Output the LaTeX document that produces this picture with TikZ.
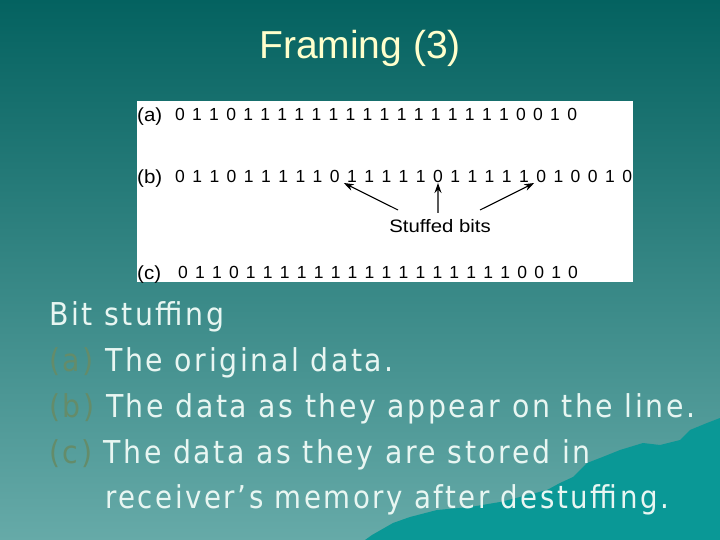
\documentclass[tikz,border=0pt]{standalone}
\usepackage{fontspec}
\setmainfont{Liberation Sans}
\newfontfamily\bodyfont[FakeStretch=0.9,LetterSpace=8.2]{DejaVu Sans}
\usetikzlibrary{arrows.meta,calc}
\definecolor{bgtop}{RGB}{4,98,96}
\definecolor{bgbot}{RGB}{102,170,168}
\definecolor{mount}{RGB}{10,152,150}
\definecolor{titlec}{RGB}{255,255,204}
\definecolor{bodyc}{RGB}{232,246,242}
\definecolor{labc}{RGB}{100,140,106}
\tikzset{
  bit/.style={inner sep=0pt,anchor=base,font=\fontsize{17.5}{17.5}\selectfont},
  rowlab/.style={inner sep=0pt,anchor=base west,xscale=1.08,font=\fontsize{19}{19}\selectfont},
  bodytext/.style={inner sep=0pt,anchor=base west,text=bodyc,font=\bodyfont\fontsize{31.5}{31.5}\selectfont},
  stuffarrow/.style={draw=black,line width=1.1pt,-{Stealth[length=10pt,width=7pt]}}
}
\begin{document}
\begin{tikzpicture}[x=1pt,y=-1pt]
\useasboundingbox (0,0) rectangle (720,540);
\shade[top color=bgtop,bottom color=bgbot] (0,0) rectangle (720,540);
% mountain
\fill[mount] (365,540) -- (372,535) -- (393,523) -- (410,517) -- (437,510) -- (470,507) -- (500,502) -- (520,497) -- (547,490) -- (560,483) -- (573,477) -- (587,463) -- (600,458) -- (620,450) -- (643,443) -- (660,445) -- (680,440) -- (690,430) -- (707,423) -- (720,418) -- (720,540) -- cycle;
% title
\node[inner sep=0pt,text=titlec,font=\fontsize{39}{39}\selectfont] (title) at (360,48) {Framing (3)};
% white figure box
\fill[white] (137,101) rectangle (633,282);
\node[rowlab] (la) at (137,122) {(a)};
\node[rowlab] (lb) at (137,184) {(b)};
\node[rowlab] (lc) at (137,279) {(c)};
\foreach \v [count=\i] in {0,1,1,0,1,1,1,1,1,1,1,1,1,1,1,1,1,1,1,1,0,0,1,0}
  \node[bit] (a\i) at ({180+(\i-1)*17.05},121) {\v};
\foreach \v [count=\i] in {0,1,1,0,1,1,1,1,1,0,1,1,1,1,1,0,1,1,1,1,1,0,1,0,0,1,0}
  \node[bit] (b\i) at ({180+(\i-1)*17.2},183) {\v};
\foreach \v [count=\i] in {0,1,1,0,1,1,1,1,1,1,1,1,1,1,1,1,1,1,1,1,0,0,1,0}
  \node[bit] (c\i) at ({183+(\i-1)*16.96},278) {\v};
\node[inner sep=0pt,anchor=base,xscale=1.13,font=\fontsize{18}{18}\selectfont] (stuffed) at (440,233) {Stuffed bits};
\coordinate (t1) at (398,210);
\coordinate (t2) at (438,213);
\coordinate (t3) at (480,210);
\draw[stuffarrow] (t1) -- ([xshift=9pt]b10.base);
\draw[stuffarrow] (t2) -- (b16.base);
\draw[stuffarrow] (t3) -- ([xshift=-7pt]b22.base);
% body text
\node[bodytext] (l0) at (49,325) {Bit stuffing};
\node[bodytext] (l1) at (49,371) {\textcolor{labc}{(a)} The original data.};
\node[bodytext] (l2) at (49,417) {\textcolor{labc}{(b)} The data as they appear on the line.};
\node[bodytext] (l3) at (49,463) {\textcolor{labc}{(c)} The data as they are stored in};
\node[bodytext,xscale=0.975] (l4) at (105,508) {receiver’s memory after destuffing.};
\end{tikzpicture}
\end{document}
